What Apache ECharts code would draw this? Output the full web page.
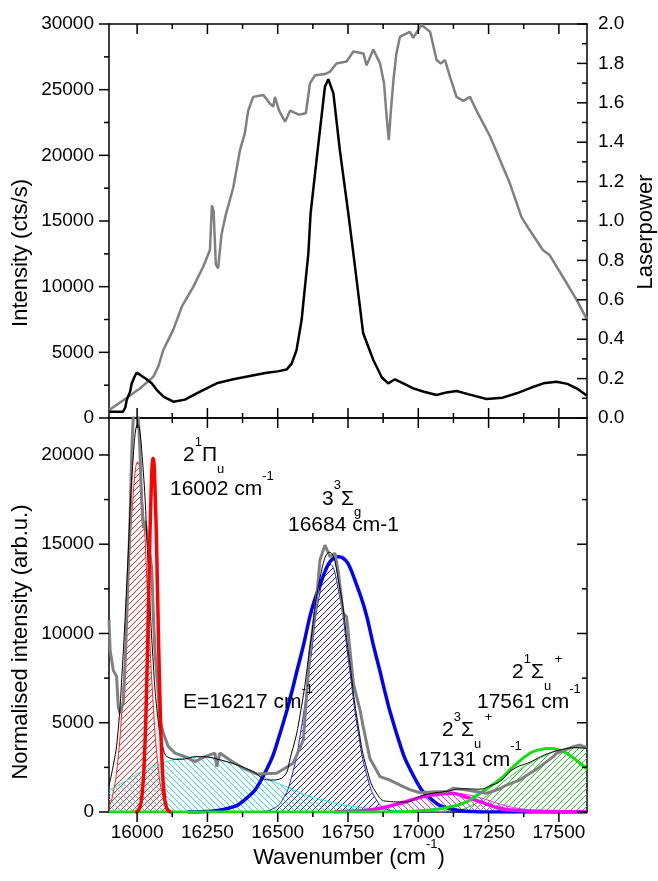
<!DOCTYPE html>
<html>
<head>
<meta charset="utf-8">
<script src="https://cdn.jsdelivr.net/npm/echarts@6/dist/echarts.min.js"></script>
<style>html,body{margin:0;padding:0;background:#fff}#c{width:658px;height:881px}</style>
</head>
<body>
<div id="c"></div>
<script>
// ---------------- data ----------------
const X_MIN = 15900, X_MAX = 17600;
const xMajorTicks = [16000, 16250, 16500, 16750, 17000, 17250, 17500];
const xMinorTicks = [16125, 16375, 16625, 16875, 17125, 17375];
const yTopLeftMajor = [0, 5000, 10000, 15000, 20000, 25000, 30000];
const yTopLeftMinor = [2500, 7500, 12500, 17500, 22500, 27500];
const yTopRightMajor = [0, 0.2, 0.4, 0.6, 0.8, 1.0, 1.2, 1.4, 1.6, 1.8, 2.0];
const yTopRightMinor = [0.1, 0.3, 0.5, 0.7, 0.9, 1.1, 1.3, 1.5, 1.7, 1.9];
const yBottomMajor = [0, 5000, 10000, 15000, 20000];
const yBottomMinor = [2500, 7500, 12500, 17500];

// top panel: intensity (cts/s)
const topIntensity = [[15900,480],[15950,480],[15958,800],[15963,1370],[15975,2000],[15981,2640],[15990,3100],[15998,3450],[16010,3300],[16030,3000],[16052,2640],[16070,2130],[16095,1600],[16129,1240],[16170,1400],[16224,2000],[16283,2640],[16342,2950],[16401,3200],[16461,3450],[16500,3550],[16532,3700],[16550,4160],[16567,5180],[16585,7460],[16597,10000],[16609,12540],[16617,15590],[16640,20000],[16668,25230],[16680,25800],[16686,25740],[16698,24720],[16721,20400],[16751,15590],[16769,12540],[16804,6450],[16840,4420],[16870,3100],[16893,2640],[16917,2950],[16950,2600],[16982,2260],[17020,2000],[17065,1750],[17100,1950],[17136,2060],[17180,1800],[17243,1450],[17300,1550],[17350,1880],[17400,2300],[17445,2640],[17492,2760],[17530,2600],[17563,2260],[17600,1700]];
// top panel: laser power
const topLaser = [[15900,0.04],[15951,0.09],[16010,0.15],[16058,0.21],[16075,0.26],[16093,0.345],[16129,0.45],[16159,0.565],[16200,0.667],[16235,0.768],[16259,0.853],[16266,1.08],[16272,1.05],[16280,0.78],[16288,0.76],[16300,0.93],[16315,1.03],[16342,1.17],[16366,1.36],[16383,1.445],[16395,1.56],[16413,1.63],[16449,1.64],[16470,1.60],[16484,1.58],[16490,1.63],[16505,1.56],[16526,1.504],[16544,1.56],[16575,1.54],[16600,1.547],[16615,1.70],[16633,1.74],[16668,1.746],[16686,1.758],[16709,1.80],[16745,1.81],[16769,1.86],[16805,1.85],[16816,1.79],[16840,1.87],[16864,1.80],[16878,1.70],[16888,1.52],[16895,1.41],[16902,1.55],[16912,1.72],[16922,1.85],[16935,1.936],[16970,1.96],[16982,1.93],[17000,1.97],[17012,1.995],[17042,1.96],[17065,1.817],[17080,1.80],[17095,1.817],[17113,1.73],[17136,1.63],[17160,1.61],[17184,1.63],[17207,1.56],[17255,1.43],[17326,1.19],[17367,1.02],[17396,0.954],[17443,0.853],[17467,0.827],[17514,0.717],[17563,0.6],[17600,0.5]];

// bottom panel: measured normalised intensity
const bottomData = [[15900,10750],[15904,9070],[15915,7950],[15927,7580],[15933,5900],[15939,5530],[15951,6090],[15958,8500],[15963,10860],[15975,16460],[15981,20200],[15990,23500],[16000,23500],[16010,20200],[16016,17400],[16022,15900],[16028,16300],[16034,15740],[16045,14500],[16052,13660],[16058,10860],[16064,8900],[16075,6660],[16081,5150],[16093,4420],[16111,3660],[16135,3300],[16170,3100],[16206,2820],[16241,3100],[16277,3300],[16283,2540],[16294,3300],[16330,2910],[16378,2450],[16425,2130],[16496,2170],[16555,2730],[16591,4030],[16615,9070],[16638,11870],[16650,14100],[16668,14950],[16686,14300],[16704,14500],[16716,13380],[16733,11130],[16745,10940],[16769,7200],[16793,5700],[16804,4780],[16828,3000],[16864,1980],[16899,1790],[16935,1510],[16970,1250],[17006,1080],[17065,1140],[17101,1140],[17124,1330],[17172,1230],[17243,1050],[17290,1300],[17314,1510],[17362,1800],[17397,2170],[17421,2400],[17480,3100],[17492,3290],[17551,3660],[17575,3750],[17600,3600]];
// bottom panel: total fit
const sumFit = [[15900,1480],[15915,2600],[15930,4150],[15948,8200],[15966,13690],[15984,19400],[16002,21700],[16020,19500],[16038,14240],[16056,8700],[16074,5250],[16092,3600],[16110,3070],[16150,2950],[16217,3100],[16300,2900],[16401,2350],[16473,1790],[16514,1900],[16548,3230],[16582,5660],[16616,9380],[16650,13070],[16684,14550],[16718,12800],[16752,8860],[16786,4850],[16820,2240],[16854,990],[16888,600],[16950,560],[17018,940],[17101,1160],[17160,1300],[17219,1280],[17255,1470],[17290,1710],[17338,2400],[17397,2790],[17450,3200],[17504,3470],[17561,3600],[17600,3570]];
// fitted components (hatched)
const redHatch = [[15900,250],[15912,860],[15930,2650],[15948,6360],[15966,11890],[15984,17300],[16002,19600],[16020,17300],[16038,11890],[16056,6360],[16074,2650],[16092,860],[16110,220],[16128,40],[16150,0]];
const cyanHatch = [[15900,1230],[15950,1650],[16004,2170],[16060,2550],[16123,2900],[16180,3060],[16217,3100],[16260,3050],[16300,2900],[16350,2650],[16401,2350],[16473,1790],[16544,1330],[16600,960],[16662,670],[16750,350],[16828,200],[16950,60],[17100,0]];
const blueHatch = [[16400,0],[16446,31],[16480,154],[16514,610],[16548,1880],[16582,4510],[16616,8430],[16650,12270],[16684,13900],[16718,12270],[16752,8430],[16786,4510],[16820,1880],[16854,610],[16888,154],[16922,31],[16960,0]];
const magentaHatch = [[16750,0],[16830,80],[16900,300],[16970,600],[17030,880],[17080,1000],[17131,1030],[17180,950],[17240,700],[17300,400],[17370,170],[17450,50],[17550,0]];
const greenHatch = [[17000,0],[17136,110],[17200,450],[17255,1050],[17300,1650],[17350,2250],[17397,2730],[17450,3150],[17504,3470],[17561,3600],[17600,3570]];
// calculated curves (thick)
const redThick = [[15993,0],[16001,44],[16009,220],[16017,870],[16025,2680],[16033,6430],[16041,12010],[16049,17470],[16057,19800],[16065,17470],[16073,12010],[16081,6430],[16089,2680],[16097,870],[16105,220],[16113,44],[16121,0]];
const blueThick = [[16180,0],[16244,31],[16311,159],[16378,628],[16446,1935],[16513,4640],[16581,8670],[16648,12620],[16716,14300],[16783,12620],[16851,8670],[16918,4640],[16986,1935],[17053,628],[17121,159],[17188,31],[17250,0],[17600,0]];
const magentaThick = [[16700,0],[16780,50],[16828,110],[16864,207],[16935,487],[17018,860],[17070,990],[17118,1050],[17148,950],[17219,580],[17290,207],[17350,90],[17397,56],[17500,10],[17600,0]];
const greenThick = [[15900,0],[16900,0],[17041,110],[17100,250],[17160,490],[17200,850],[17255,1420],[17300,1950],[17338,2540],[17397,3290],[17430,3480],[17468,3550],[17500,3480],[17528,3290],[17575,2730],[17600,2400]];

// ---------------- chart ----------------
const FF = "'Liberation Sans', Arial, Helvetica, sans-serif";
function ax() { return {color:'#000', width:1.5}; }

function hatch(color, dir) {
  const s = 6;
  const c = document.createElement('canvas');
  c.width = s; c.height = s;
  const g = c.getContext('2d');
  g.clearRect(0, 0, s, s);
  g.fillStyle = color;
  for (let i = 0; i < s; i++) {
    // both diagonals start on the tile's top-left pixel
    if (dir === 'up') g.fillRect(i, (s - i) % s, 1, 1);
    else g.fillRect(i, i, 1, 1);
  }
  return {image: c, repeat: 'repeat'};
}

const plain = v => String(v);

function xAx(grid, pos, labels) {
  return {
    type:'value', gridIndex:grid, position:pos, min:X_MIN, max:X_MAX,
    splitLine:{show:false},
    axisLine:{show:true, onZero:false, lineStyle:ax()},
    axisTick:{show:false},
    axisLabel: labels ? {show:true, customValues:xMajorTicks, formatter:plain, color:'#000', fontSize:19, fontFamily:FF, margin:11} : {show:false}
  };
}

// tick marks drawn through the axes' own scales
function ticks(xi, yi, dim, values, at, len, dir) {
  return {
    type:'custom', xAxisIndex:xi, yAxisIndex:yi, clip:false, silent:true, z:10,
    data: values.map(v => dim === 'x' ? [v, at] : [at, v]),
    renderItem: function (params, api) {
      const p = api.coord([api.value(0), api.value(1)]);
      const q = dim === 'x' ? [p[0], p[1] + dir * len] : [p[0] + dir * len, p[1]];
      return {type:'line', shape:{x1:p[0], y1:p[1], x2:q[0], y2:q[1]}, style:{stroke:'#000', lineWidth:1.5}};
    }
  };
}

const rich = {
  sup:{fontSize:13, lineHeight:26, verticalAlign:'top', fontFamily:FF, fill:'#000'},
  sub:{fontSize:13, lineHeight:12, verticalAlign:'bottom', fontFamily:FF, fill:'#000'}
};
function ann(x, y, text) {
  return {type:'text', x:x, y:y, z:100, style:{text:text, fill:'#000', fontSize:21, fontFamily:FF, lineHeight:40, align:'left', verticalAlign:'middle', rich:rich}};
}
function title(x, y, text, rot) {
  return {type:'text', x:x, y:y, rotation:rot||0, z:100, style:{text:text, fill:'#000', fontSize:22, fontFamily:FF, lineHeight:40, align:'center', verticalAlign:'middle', rich:rich}};
}

function line(xi, yi, data, color, width, z, extra) {
  return Object.assign({type:'line', xAxisIndex:xi, yAxisIndex:yi, data:data, symbol:'none', showSymbol:false,
    lineStyle:{color:color, width:width}, itemStyle:{color:color}, z:z, animation:false, clip:true}, extra || {});
}

const chart = echarts.init(document.getElementById('c'), null, {renderer:'canvas'});
chart.setOption({
  animation:false,
  backgroundColor:'#fff',
  grid:[
    {left:109, top:24, width:478, height:394},
    {left:109, top:418, width:478, height:394}
  ],
  xAxis:[
    xAx(0, 'bottom', false),
    xAx(0, 'top', false),
    xAx(1, 'bottom', true),
    xAx(1, 'top', false)
  ],
  yAxis:[
    {type:'value', gridIndex:0, position:'left', min:0, max:30000, interval:5000,
     splitLine:{show:false}, axisTick:{show:false},
     axisLine:{show:true, onZero:false, lineStyle:ax()},
     axisLabel:{color:'#000', fontSize:19, fontFamily:FF, margin:15, formatter:plain}},
    {type:'value', gridIndex:0, position:'right', min:0, max:2, interval:0.2,
     splitLine:{show:false}, axisTick:{show:false},
     axisLine:{show:true, onZero:false, lineStyle:ax()},
     axisLabel:{color:'#000', fontSize:19, fontFamily:FF, margin:11, formatter:v => v.toFixed(1)}},
    {type:'value', gridIndex:1, position:'left', min:0, max:22070,
     splitLine:{show:false}, axisTick:{show:false},
     axisLine:{show:true, onZero:false, lineStyle:ax()},
     axisLabel:{customValues:yBottomMajor, color:'#000', fontSize:19, fontFamily:FF, margin:15, formatter:plain}},
    {type:'value', gridIndex:1, position:'right', min:0, max:22070,
     splitLine:{show:false}, axisTick:{show:false}, axisLabel:{show:false},
     axisLine:{show:true, onZero:false, lineStyle:ax()}}
  ],
  series:[
    // top panel
    line(0, 1, topLaser, '#808080', 2.5, 2),
    line(0, 0, topIntensity, '#000', 2.5, 3),
    // bottom panel hatched components
    line(2, 2, cyanHatch, '#22e0e8', 1, 2, {smooth:true, areaStyle:{color:hatch('#22e0e8','down'), opacity:1}}),
    line(2, 2, redHatch, '#ff2020', 1, 2, {smooth:true, areaStyle:{color:hatch('#ff2020','up'), opacity:1}}),
    line(2, 2, blueHatch, '#2020e0', 1, 2, {smooth:true, areaStyle:{color:hatch('#2020e0','up'), opacity:1}}),
    line(2, 2, magentaHatch, '#ff20ff', 1, 2, {smooth:true, areaStyle:{color:hatch('#ff20ff','down'), opacity:1}}),
    line(2, 2, greenHatch, '#20d020', 1, 2, {smooth:true, areaStyle:{color:hatch('#20d020','up'), opacity:1}}),
    // thick calculated curves
    line(2, 2, blueThick, '#0000ff', 3.5, 4, {smooth:true}),
    line(2, 2, magentaThick, '#ff00ff', 3.5, 4, {smooth:true}),
    line(2, 2, greenThick, '#10e010', 3, 4, {smooth:true}),
    // data & fit
    line(2, 2, bottomData, '#808080', 3, 5),
    line(2, 2, sumFit, '#000', 1, 6, {smooth:true}),
    line(2, 2, redThick, '#ff0000', 3.5, 7, {smooth:true}),
    // ticks, top panel
    ticks(0, 0, 'y', yTopLeftMajor, X_MIN, 10, -1),
    ticks(0, 0, 'y', yTopLeftMinor, X_MIN, 5, -1),
    ticks(0, 1, 'y', yTopRightMajor, X_MAX, 10, -1),
    ticks(0, 1, 'y', yTopRightMinor, X_MAX, 5, -1),
    ticks(0, 0, 'x', xMajorTicks, 0, 10, -1),
    ticks(0, 0, 'x', xMinorTicks, 0, 5, -1),
    ticks(0, 0, 'x', xMajorTicks, 30000, 10, 1),
    ticks(0, 0, 'x', xMinorTicks, 30000, 5, 1),
    // ticks, bottom panel
    ticks(2, 2, 'y', yBottomMajor, X_MIN, 10, -1),
    ticks(2, 2, 'y', yBottomMinor, X_MIN, 5, -1),
    ticks(2, 2, 'y', yBottomMajor, X_MAX, 10, -1),
    ticks(2, 2, 'y', yBottomMinor, X_MAX, 5, -1),
    ticks(2, 2, 'x', xMajorTicks, 0, 10, 1),
    ticks(2, 2, 'x', xMinorTicks, 0, 5, 1),
    ticks(2, 2, 'x', xMajorTicks, 22070, 10, 1),
    ticks(2, 2, 'x', xMinorTicks, 22070, 5, 1)
  ],
  graphic:[
    title(21, 253, 'Intensity (cts/s)', Math.PI/2),
    title(646, 232, 'Laserpower', Math.PI/2),
    title(21, 642, 'Normalised intensity (arb.u.)', Math.PI/2),
    title(349, 858, 'Wavenumber (cm{sup|-1})'),
    ann(183, 455.5, '2{sup|1}Π{sub|u}'),
    ann(170, 489.5, '16002 cm{sup|-1}'),
    ann(322, 499, '3{sup|3}Σ{sub|g}'),
    ann(288, 525, '16684 cm-1'),
    ann(183, 702.5, 'E=16217 cm{sup|-1}'),
    ann(512, 672.5, '2{sup|1}Σ{sub|u}{sup| +}'),
    ann(477, 702.5, '17561 cm{sup|-1}'),
    ann(442, 730.5, '2{sup|3}Σ{sub|u}{sup| +}'),
    ann(418, 760, '17131 cm{sup|-1}')
  ]
});
</script>
</body>
</html>
